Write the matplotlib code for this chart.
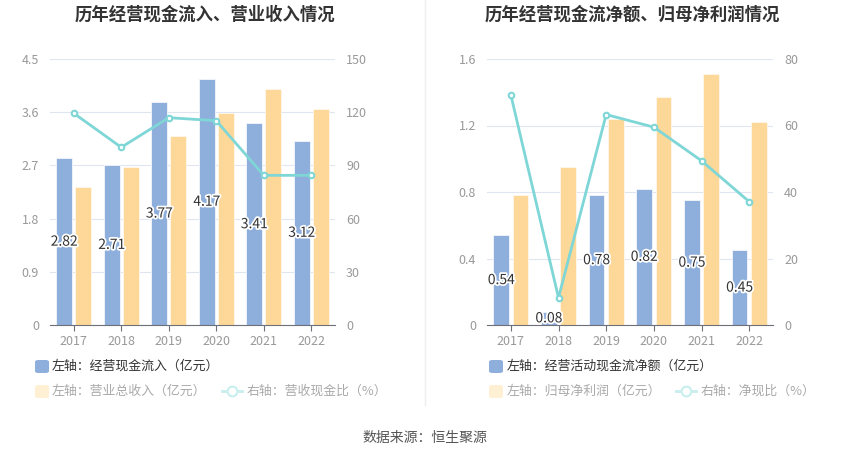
import matplotlib
matplotlib.use('Agg')
import matplotlib.pyplot as plt
import matplotlib.patheffects as pe
from matplotlib.patches import FancyBboxPatch
from matplotlib.lines import Line2D
import numpy as np

plt.rcParams['font.family'] = ['Noto Sans CJK SC', 'DejaVu Sans']

years = ['2017', '2018', '2019', '2020', '2021', '2022']

# left chart
cash_in = [2.82, 2.71, 3.77, 4.17, 3.41, 3.12]
revenue = [2.34, 2.67, 3.19, 3.59, 3.99, 3.65]
cash_rev_ratio = [119.4, 100.2, 116.9, 115.2, 84.4, 84.4]

# right chart
op_cash_net = [0.54, 0.08, 0.78, 0.82, 0.75, 0.45]
net_profit = [0.78, 0.95, 1.24, 1.37, 1.51, 1.22]
net_cash_ratio = [69.2, 8.2, 63.3, 59.5, 49.4, 37.1]

BLUE = '#8eaedb'
ORANGE = '#fed898'
TEAL = '#7fd6d6'
GRID = '#e0e6f1'
TICK = '#999999'

fig = plt.figure(figsize=(8.5, 4.59), dpi=100)
W, H = 850, 459


def px(x, y):
    return x / W, 1 - y / H


def draw_panel(rect, blue, orange, ratio, lmax, rmax, lticks, rticks):
    ax = fig.add_axes(rect)
    x = np.arange(len(years))
    ax.bar(x - 0.2, blue, width=0.33, color=BLUE, edgecolor='#f4f7fc', linewidth=0.6, zorder=2)
    ax.bar(x + 0.2, orange, width=0.33, color=ORANGE, edgecolor='#fff8ec', linewidth=0.6, zorder=2)
    for xi, v in zip(x, blue):
        ax.text(xi - 0.2, v / 2, f'{v:.2f}', ha='center', va='center',
                fontsize=10, color='#333333', zorder=5,
                path_effects=[pe.withStroke(linewidth=2.5, foreground='white')])
    ax.set_xlim(-0.5, len(years) - 0.5)
    ax.set_ylim(0, lmax)
    ax.set_yticks(lticks)
    ax.set_yticklabels([f'{t:g}' for t in lticks])
    ax.set_xticks(x)
    ax.set_xticklabels(years)
    ax.grid(axis='y', color=GRID, linewidth=0.8, zorder=0)
    for s in ['top', 'right', 'left']:
        ax.spines[s].set_visible(False)
    ax.spines['bottom'].set_color('#6e7079')
    ax.tick_params(axis='y', length=0, colors=TICK, labelsize=9, pad=8)
    ax.tick_params(axis='x', length=4, color='#6e7079', colors=TICK, labelsize=9)

    ax2 = ax.twinx()
    ax2.plot(x, ratio, color=TEAL, linewidth=2, marker='o', markersize=4,
             markerfacecolor='white', markeredgecolor=TEAL, markeredgewidth=1.5, zorder=4)
    ax2.set_ylim(0, rmax)
    ax2.set_yticks(rticks)
    for s in ['top', 'right', 'left', 'bottom']:
        ax2.spines[s].set_visible(False)
    ax2.tick_params(axis='y', length=0, colors=TICK, labelsize=9, pad=8)
    return ax


l0 = px(50, 325)
draw_panel([l0[0], l0[1], 285 / W, 266 / H], cash_in, revenue, cash_rev_ratio,
           4.5, 150, [0, 0.9, 1.8, 2.7, 3.6, 4.5], [0, 30, 60, 90, 120, 150])
r0 = px(487, 325)
draw_panel([r0[0], r0[1], 286 / W, 266 / H], op_cash_net, net_profit, net_cash_ratio,
           1.6, 80, [0, 0.4, 0.8, 1.2, 1.6], [0, 20, 40, 60, 80])

# titles
fig.text(*px(205, 15), '历年经营现金流入、营业收入情况', ha='center', va='center',
         fontsize=12.5, fontweight='bold', color='#333333')
fig.text(*px(632, 15), '历年经营现金流净额、归母净利润情况', ha='center', va='center',
         fontsize=12.5, fontweight='bold', color='#333333')

# divider
fig.add_artist(Line2D([425 / W, 425 / W], [1 - 0 / H, 1 - 405 / H], color='#eeeeee', linewidth=1))


def legend_box(x, y, color):
    bx, by = px(x, y + 7)
    fig.add_artist(FancyBboxPatch((bx, by), 14 / W, 13 / H,
                                  boxstyle='round,pad=0,rounding_size=0.004',
                                  facecolor=color, edgecolor='none', transform=fig.transFigure))


def legend_line(x, y):
    a, yy = px(x, y)
    b, _ = px(x + 20, y)
    fig.add_artist(Line2D([a, b], [yy, yy], color='#c9eeee', linewidth=2))
    fig.add_artist(Line2D([(a + b) / 2], [yy], marker='o', markersize=7,
                          markerfacecolor='white', markeredgecolor='#c9eeee', markeredgewidth=1.5))


legend_box(35, 366, BLUE)
fig.text(*px(52, 366), '左轴：经营现金流入（亿元）', va='center', fontsize=9.3, color='#333333')
legend_box(35, 391, '#ffefd3')
fig.text(*px(52, 391), '左轴：营业总收入（亿元）', va='center', fontsize=9.3, color='#aaaaaa')
legend_line(222, 391)
fig.text(*px(247, 391), '右轴：营收现金比（%）', va='center', fontsize=9.3, color='#aaaaaa')

legend_box(489, 366, BLUE)
fig.text(*px(507, 366), '左轴：经营活动现金流净额（亿元）', va='center', fontsize=9.3, color='#333333')
legend_box(489, 391, '#ffefd3')
fig.text(*px(507, 391), '左轴：归母净利润（亿元）', va='center', fontsize=9.3, color='#aaaaaa')
legend_line(676, 391)
fig.text(*px(701, 391), '右轴：净现比（%）', va='center', fontsize=9.3, color='#aaaaaa')

fig.text(*px(425, 438), '数据来源：恒生聚源', ha='center', va='center', fontsize=10, color='#555555')

fig.savefig('out.png', dpi=100, facecolor='white')
